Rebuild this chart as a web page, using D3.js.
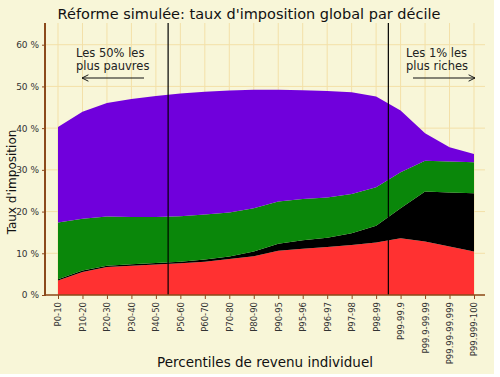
<!DOCTYPE html>
<html><head><meta charset="utf-8">
<script src="https://cdn.jsdelivr.net/npm/d3@7"></script>
<style>
body{margin:0;background:#fff;}
svg{display:block;}
text{font-family:"DejaVu Sans",Verdana,sans-serif;}
</style></head>
<body><svg id="c" width="500" height="377"></svg>
<script>
const categories = ["P0-10","P10-20","P20-30","P30-40","P40-50","P50-60","P60-70","P70-80","P80-90","P90-95","P95-96","P96-97","P97-98","P98-99","P99-99.9","P99.9-99.99","P99.99-99.999","P99.999-100"];
const seriesRed    = [3.5,5.5,6.7,7.0,7.3,7.6,8.0,8.6,9.3,10.6,11.1,11.5,12.0,12.6,13.6,12.8,11.6,10.4];
const seriesBlack  = [0.3,0.4,0.3,0.4,0.4,0.4,0.5,0.6,1.1,1.7,2.0,2.2,2.8,4.0,7.2,12.0,13.0,14.0];
const seriesGreen  = [13.6,12.4,11.8,11.3,11.0,10.9,10.8,10.6,10.4,10.1,9.9,9.7,9.4,9.2,8.6,7.4,7.4,7.4];
const seriesPurple = [22.9,25.6,27.2,28.3,29.0,29.4,29.4,29.2,28.4,26.8,26.1,25.5,24.4,21.8,14.8,6.6,3.4,2.0];
const yTicks = [0,10,20,30,40,50,60];
const seriesKeys = ["red","black","green","purple"];
const seriesColors = {red:"#ff3131", black:"#000000", green:"#0a870a", purple:"#7000dc"};

const rows = categories.map((c,i)=>({cat:c, red:seriesRed[i], black:seriesBlack[i], green:seriesGreen[i], purple:seriesPurple[i]}));

const svg = d3.select("#c");
svg.append("rect").attr("x",0).attr("y",0).attr("width",494).attr("height",374).attr("fill","#f8f6d8");

const pLeft=45, pRight=485, pTop=23, pBottom=295;
const x = d3.scalePoint().domain(categories).range([58,474]);
const y = d3.scaleLinear().domain([0,60]).range([pBottom,44.7]);

const grid = svg.append("g").attr("stroke","#f3e0a8").attr("stroke-width",1);
categories.forEach(c=>grid.append("line").attr("x1",x(c)).attr("x2",x(c)).attr("y1",pTop).attr("y2",pBottom));
yTicks.forEach(t=>grid.append("line").attr("x1",pLeft).attr("x2",pRight).attr("y1",y(t)).attr("y2",y(t)));

const stack = d3.stack().keys(seriesKeys)(rows);
const area = d3.area().x(d=>x(d.data.cat)).y0(d=>y(d[0])).y1(d=>y(d[1])).curve(d3.curveLinear);
svg.append("g").selectAll("path").data(stack).join("path")
  .attr("d",area).attr("fill",d=>seriesColors[d.key]);

// split lines
const split1 = (x("P40-50")+x("P50-60"))/2, split2 = (x("P98-99")+x("P99-99.9"))/2;
[split1,split2].forEach(v=>svg.append("line").attr("x1",v).attr("x2",v).attr("y1",pTop).attr("y2",pBottom).attr("stroke","#000").attr("stroke-width",1.2));

// axes
const brown="#8b4a1c";
const yAxis = svg.append("g").attr("transform",`translate(${pLeft},0)`).call(d3.axisLeft(y).tickValues(yTicks).tickFormat(d=>d+" %").tickSize(3).tickPadding(3));
yAxis.select(".domain").remove();
yAxis.selectAll(".tick line").attr("stroke",brown);
yAxis.selectAll("text").attr("font-size",9).attr("fill","#333");
svg.append("line").attr("x1",pLeft).attr("x2",pLeft).attr("y1",pTop).attr("y2",pBottom+1).attr("stroke",brown).attr("stroke-width",2);

const xAxis = svg.append("g").attr("transform",`translate(0,${pBottom})`).call(d3.axisBottom(x).tickSize(4).tickSizeOuter(0));
xAxis.select(".domain").remove();
xAxis.selectAll(".tick line").attr("stroke",brown);
xAxis.selectAll("text").attr("font-size",8.5).attr("fill","#333")
  .attr("transform","rotate(-90)").attr("text-anchor","end").attr("x",-7).attr("y",0).attr("dy","0.35em");
svg.append("line").attr("x1",pLeft-1).attr("x2",pRight).attr("y1",pBottom).attr("y2",pBottom).attr("stroke",brown).attr("stroke-width",1.5);

// titles
svg.append("text").attr("x",249).attr("y",19).attr("text-anchor","middle").attr("font-size",14.5).attr("fill","#111")
  .text("Réforme simulée: taux d'imposition global par décile");
svg.append("text").attr("x",265).attr("y",367).attr("text-anchor","middle").attr("font-size",13.5).attr("fill","#111")
  .text("Percentiles de revenu individuel");
svg.append("text").attr("transform","translate(16,182) rotate(-90)").attr("text-anchor","middle").attr("font-size",12).attr("fill","#111")
  .text("Taux d'imposition");

// annotations
const defs = svg.append("defs");
defs.append("marker").attr("id","ah").attr("viewBox","0 0 10 10").attr("refX",9).attr("refY",5)
  .attr("markerWidth",8).attr("markerHeight",8).attr("orient","auto-start-reverse")
  .append("path").attr("d","M1,1 L9,5 L1,9").attr("fill","none").attr("stroke","#111").attr("stroke-width",1.2);
const ann = svg.append("g").attr("font-size",11.5).attr("fill","#222");
ann.append("text").attr("x",76).attr("y",57).text("Les 50% les");
ann.append("text").attr("x",76).attr("y",70).text("plus pauvres");
ann.append("text").attr("x",406).attr("y",57).text("Les 1% les");
ann.append("text").attr("x",406).attr("y",70).text("plus riches");
svg.append("line").attr("x1",144).attr("x2",82).attr("y1",78).attr("y2",78).attr("stroke","#111").attr("marker-end","url(#ah)");
svg.append("line").attr("x1",413).attr("x2",475).attr("y1",78).attr("y2",78).attr("stroke","#111").attr("marker-end","url(#ah)");
</script></body></html>
